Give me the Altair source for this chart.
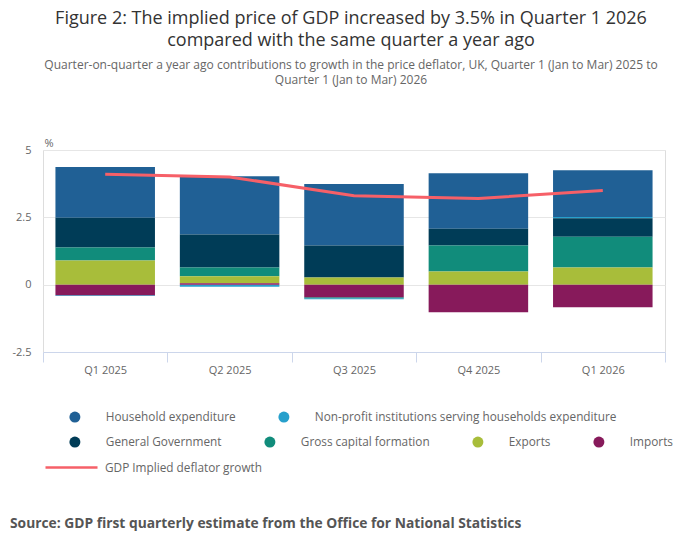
import altair as alt
import pandas as pd

quarters = ["Q1 2025", "Q2 2025", "Q3 2025", "Q4 2025", "Q1 2026"]
components = [
    "Household expenditure",
    "Non-profit institutions serving households expenditure",
    "General Government",
    "Gross capital formation",
    "Exports",
    "Imports",
]
colors = ["#206095", "#27a0cc", "#003c57", "#118c7b", "#a8bd3a", "#871a5b"]

household = [1.89, 2.17, 2.29, 2.06, 1.74]
npish = [-0.03, -0.08, -0.04, 0.0, 0.04]
general_gov = [1.10, 1.22, 1.18, 0.63, 0.69]
gross_capital = [0.48, 0.33, -0.03, 0.96, 1.14]
exports = [0.90, 0.26, 0.27, 0.49, 0.64]
imports = [-0.39, 0.05, -0.47, -1.02, -0.84]
deflator = [4.1, 4.0, 3.3, 3.2, 3.5]
line_name = "GDP Implied deflator growth"

title_lines = [
    "Figure 2: The implied price of GDP increased by 3.5% in Quarter 1 2026",
    "compared with the same quarter a year ago",
]
subtitle_lines = [
    "Quarter-on-quarter a year ago contributions to growth in the price deflator, UK, Quarter 1 (Jan to Mar) 2025 to",
    "Quarter 1 (Jan to Mar) 2026",
]
source_text = "Source: GDP first quarterly estimate from the Office for National Statistics"

series = [household, npish, general_gov, gross_capital, exports, imports]
rows = []
for ci, (comp, vals) in enumerate(zip(components, series)):
    for q, v in zip(quarters, vals):
        rows.append({"quarter": q, "component": comp, "value": v, "order": ci})
df = pd.DataFrame(rows)
line_df = pd.DataFrame({"quarter": quarters, "value": deflator, "series": [line_name] * len(quarters)})

FONT = "Open Sans"
row1 = components[:2]
row2 = components[2:]

x_enc = alt.X(
    "quarter:N",
    sort=quarters,
    scale=alt.Scale(paddingInner=0, paddingOuter=0),
    axis=alt.Axis(
        title=None, labelAngle=0, tickBand="extent", tickSize=10, tickColor="#ccd6eb",
        domainColor="#ccd6eb", labelColor="#666666", labelFontSize=11, labelFont=FONT,
        labelPadding=2, grid=False, zindex=1,
    ),
)
y_scale = alt.Scale(domain=[-2.5, 5], nice=False, zero=False)
y_axis = alt.Axis(
    title="%", titleAngle=0, titleAlign="left", titleBaseline="bottom", titleX=1, titleY=-2,
    titleFontSize=11, titleFontWeight="normal", titleColor="#666666", titleFont=FONT,
    values=[-2.5, 0, 2.5, 5], labelExpr="'' + datum.value", labelColor="#666666",
    labelFontSize=11, labelFont=FONT, labelPadding=12, domain=False, ticks=False,
    gridColor="#e6e6e6", gridWidth=1,
)

def legend(x, y, **kw):
    base = dict(
        orient="none", legendX=x, legendY=y, direction="horizontal", title=None,
        labelFont=FONT, labelFontSize=11.8, labelColor="#666666", padding=0,
        columnPadding=42, labelLimit=500,
    )
    base.update(kw)
    return alt.Legend(**base)

base = alt.Chart(df).transform_stack(
    stack="value", as_=["v0", "v1"], groupby=["quarter"],
    sort=[alt.SortField("order", order="descending")], offset="zero",
)

bars1 = base.transform_filter(
    alt.FieldOneOfPredicate(field="component", oneOf=row1)
).mark_bar(width=alt.RelativeBandSize(0.8), strokeWidth=0).encode(
    x=x_enc,
    y=alt.Y("v0:Q", scale=y_scale, axis=y_axis, title="%"),
    y2="v1:Q",
    color=alt.Color(
        "component:N",
        scale=alt.Scale(domain=row1, range=colors[:2]),
        legend=legend(26, 261, symbolType="circle", symbolSize=121, labelOffset=25, symbolStrokeWidth=0),
    ),
)

bars2 = base.transform_filter(
    alt.FieldOneOfPredicate(field="component", oneOf=row2)
).mark_bar(width=alt.RelativeBandSize(0.8), strokeWidth=0).encode(
    x=x_enc,
    y=alt.Y("v0:Q", scale=y_scale, axis=y_axis, title="%"),
    y2="v1:Q",
    fill=alt.Fill(
        "component:N",
        scale=alt.Scale(domain=row2, range=colors[2:]),
        legend=legend(26, 286, symbolType="circle", symbolSize=121, labelOffset=25, symbolStrokeWidth=0),
    ),
)

line = alt.Chart(line_df).mark_line(strokeWidth=3).encode(
    x=x_enc,
    y=alt.Y("value:Q", scale=y_scale, axis=y_axis, title="%"),
    stroke=alt.Stroke(
        "series:N",
        scale=alt.Scale(domain=[line_name], range=["#f66068"]),
        legend=legend(1, 290, symbolType="stroke", symbolSize=2704, symbolStrokeWidth=2.5, labelOffset=6),
    ),
)

source = alt.Chart(pd.DataFrame({"t": [source_text]})).mark_text(
    align="left", baseline="middle", fontSize=13.8, fontWeight="bold", font=FONT, color="#555555",
).encode(text="t:N", x=alt.value(-33), y=alt.value(374))

chart = alt.layer(bars1, bars2, line, source).properties(
    width=622,
    height=202,
    padding={"left": 2, "top": 2, "right": 10, "bottom": 10},
    title=alt.TitleParams(
        text=title_lines, subtitle=subtitle_lines, font=FONT, fontSize=18, fontWeight="normal",
        color="#333333", lineHeight=22, subtitleFont=FONT, subtitleFontSize=12,
        subtitleColor="#666666", subtitleLineHeight=15, subtitlePadding=10, anchor="middle",
        offset=51, dx=-3,
    ),
).configure_view(stroke=None).configure(background="white")

chart.save("out.html", embed_options={"renderer": "svg", "actions": False})
